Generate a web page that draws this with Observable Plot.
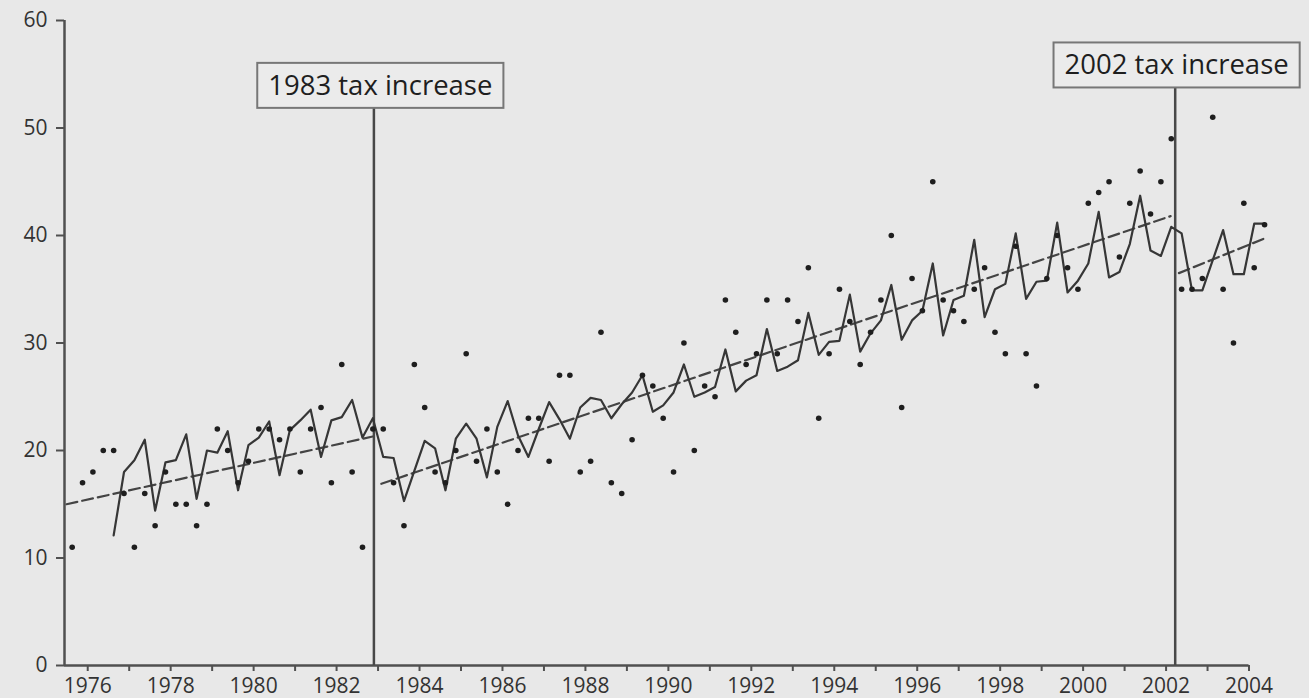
<!DOCTYPE html>
<html>
<head>
<meta charset="utf-8">
<script src="https://cdn.jsdelivr.net/npm/d3@7"></script>
<script src="https://cdn.jsdelivr.net/npm/@observablehq/plot@0.6"></script>
<style>
  html, body { margin: 0; padding: 0; background: #e8e8e8; }
  #chart { width: 1309px; height: 698px; }
</style>
</head>
<body>
<div id="chart"></div>
<script>
// ---- data ----
const actualStart = 1975.625;          // mid-point of 1975 Q3
const actual = [
  11, 17,
  18, 20, 20, 16,
  11, 16, 13, 18,
  15, 15, 13, 15,
  22, 20, 17, 19,
  22, 22, 21, 22,
  18, 22, 24, 17,
  28, 18, 11, 22,
  22, 17, 13, 28,
  24, 18, 17, 20,
  29, 19, 22, 18,
  15, 20, 23, 23,
  19, 27, 27, 18,
  19, 31, 17, 16,
  21, 27, 26, 23,
  18, 30, 20, 26,
  25, 34, 31, 28,
  29, 34, 29, 34,
  32, 37, 23, 29,
  35, 32, 28, 31,
  34, 40, 24, 36,
  33, 45, 34, 33,
  32, 35, 37, 31,
  29, 39, 29, 26,
  36, 40, 37, 35,
  43, 44, 45, 38,
  43, 46, 42, 45,
  49, 35, 35, 36,
  51, 35, 30, 43,
  37, 41
];
const fittedStart = 1976.625;          // mid-point of 1976 Q3
const fitted = [
  12.1, 18.0,
  19.1, 21.0, 14.4, 18.9,
  19.1, 21.5, 15.5, 20.0,
  19.8, 21.8, 16.3, 20.5,
  21.2, 22.7, 17.7, 21.9,
  22.8, 23.8, 19.4, 22.8,
  23.1, 24.7, 21.2, 23.0,
  19.4, 19.3, 15.3, 18.1,
  20.9, 20.2, 16.3, 21.1,
  22.5, 21.1, 17.5, 22.2,
  24.6, 21.4, 19.4, 22.0,
  24.5, 22.9, 21.1, 24.0,
  24.9, 24.7, 23.0, 24.3,
  25.4, 27.0, 23.6, 24.2,
  25.4, 28.0, 25.0, 25.4,
  25.9, 29.4, 25.5, 26.5,
  27.0, 31.3, 27.4, 27.8,
  28.4, 32.8, 28.9, 30.1,
  30.2, 34.5, 29.2, 30.9,
  32.1, 35.4, 30.3, 32.1,
  33.0, 37.4, 30.7, 34.0,
  34.4, 39.6, 32.4, 35.0,
  35.5, 40.2, 34.1, 35.7,
  35.8, 41.2, 34.7, 35.8,
  37.4, 42.2, 36.1, 36.6,
  39.2, 43.7, 38.6, 38.1,
  40.8, 40.2, 34.9, 34.9,
  37.7, 40.5, 36.4, 36.4,
  41.1, 41.1
];
// linear trend segments: [time, value]
const trendSegments = [
  {segment: "pre-1983",  points: [[1975.49, 15.0], [1982.87, 21.3]]},
  {segment: "1983-2002", points: [[1983.08, 16.9], [2002.11, 41.8]]},
  {segment: "post-2002", points: [[2002.31, 36.5], [2004.36, 39.7]]}
];
const taxEvents = [
  {label: "1983 tax increase", time: 1982.9},
  {label: "2002 tax increase", time: 2002.22}
];
const labelPlacement = [
  {time: 1983.055, value: 53.9},
  {time: 2002.254, value: 55.8}
];
const xTicks = d3.range(1976, 2005);      // one tick per year
const yTicks = [0, 10, 20, 30, 40, 50, 60];
const xStart = 1975.44, xAxisEnd = 2004, xDomainEnd = 2005;

// ---- tables ----
const actualRows = actual.map((v, i) => ({t: actualStart + i / 4, v}));
const fittedRows = fitted.map((v, i) => ({t: fittedStart + i / 4, v}));
const trendRows = trendSegments.flatMap(s => s.points.map(([t, v]) => ({segment: s.segment, t, v})));
const labelRows = taxEvents.map((e, i) => ({...e, lt: labelPlacement[i].time, lv: labelPlacement[i].value}));

const ink = "#363636";
const axisInk = "#505050";

const chart = Plot.plot({
  width: 1309,
  height: 698,
  marginLeft: 64,
  marginRight: 19,
  marginTop: 20,
  marginBottom: 33,
  style: {fontFamily: "'Open Sans', sans-serif", background: "#e8e8e8", overflow: "visible"},
  x: {domain: [xStart, xDomainEnd], axis: null},
  y: {domain: [0, 60], axis: null},
  marks: [
    Plot.axisY({ticks: yTicks, tickSize: 8, tickPadding: 9, fontSize: 21, fill: "#333", stroke: axisInk, strokeWidth: 2, label: null}),
    Plot.axisX({ticks: xTicks, tickFormat: d => d % 2 === 0 ? String(d) : "", tickSize: 6, tickPadding: 7, fontSize: 21, fill: "#333", stroke: axisInk, strokeWidth: 2, label: null}),
    Plot.ruleY([0], {x1: xStart, x2: xAxisEnd, stroke: axisInk, strokeWidth: 2.5}),
    Plot.ruleX([xStart], {y1: 0, y2: 60, stroke: axisInk, strokeWidth: 2.5}),
    Plot.ruleX(labelRows, {x: "time", y1: 0, y2: "lv", stroke: "#484848", strokeWidth: 2.5}),
    Plot.line(trendRows, {x: "t", y: "v", z: "segment", stroke: "#444", strokeWidth: 2.2, strokeDasharray: "11,5"}),
    Plot.line(fittedRows, {x: "t", y: "v", stroke: ink, strokeWidth: 2.2}),
    Plot.dot(actualRows, {x: "t", y: "v", r: 2.8, fill: "#1e1e1e", stroke: "none"}),
    Plot.text(labelRows, {x: "lt", y: "lv", text: "label", fontSize: 27.5, fill: "#1e1e1e", textAnchor: "middle", lineAnchor: "middle"})
  ]
});

document.getElementById("chart").appendChild(chart);

// framed boxes behind the annotation labels
const svgNS = "http://www.w3.org/2000/svg";
const labelTexts = Array.from(chart.querySelectorAll("text")).filter(t => taxEvents.some(e => e.label === t.textContent));
labelTexts.forEach(t => {
  const b = t.getBBox();
  let tx = 0, ty = 0;
  // account for transforms on the text or its group
  let node = t;
  while (node && node !== chart) {
    const tr = node.transform && node.transform.baseVal && node.transform.baseVal.consolidate();
    if (tr) { tx += tr.matrix.e; ty += tr.matrix.f; }
    node = node.parentNode;
  }
  const cy = ty + b.y + b.height / 2 + 1;
  const r = document.createElementNS(svgNS, "rect");
  r.setAttribute("x", tx + b.x - 11);
  r.setAttribute("y", cy - 22.5);
  r.setAttribute("width", b.width + 22);
  r.setAttribute("height", 45);
  r.setAttribute("fill", "#ebebeb");
  r.setAttribute("stroke", "#777");
  r.setAttribute("stroke-width", 2);
  const grp = t.parentNode;
  const topGroup = (grp === chart) ? t : (function(){ let g = grp; while (g.parentNode !== chart) g = g.parentNode; return g; })();
  chart.insertBefore(r, topGroup);
});
</script>
</body>
</html>
